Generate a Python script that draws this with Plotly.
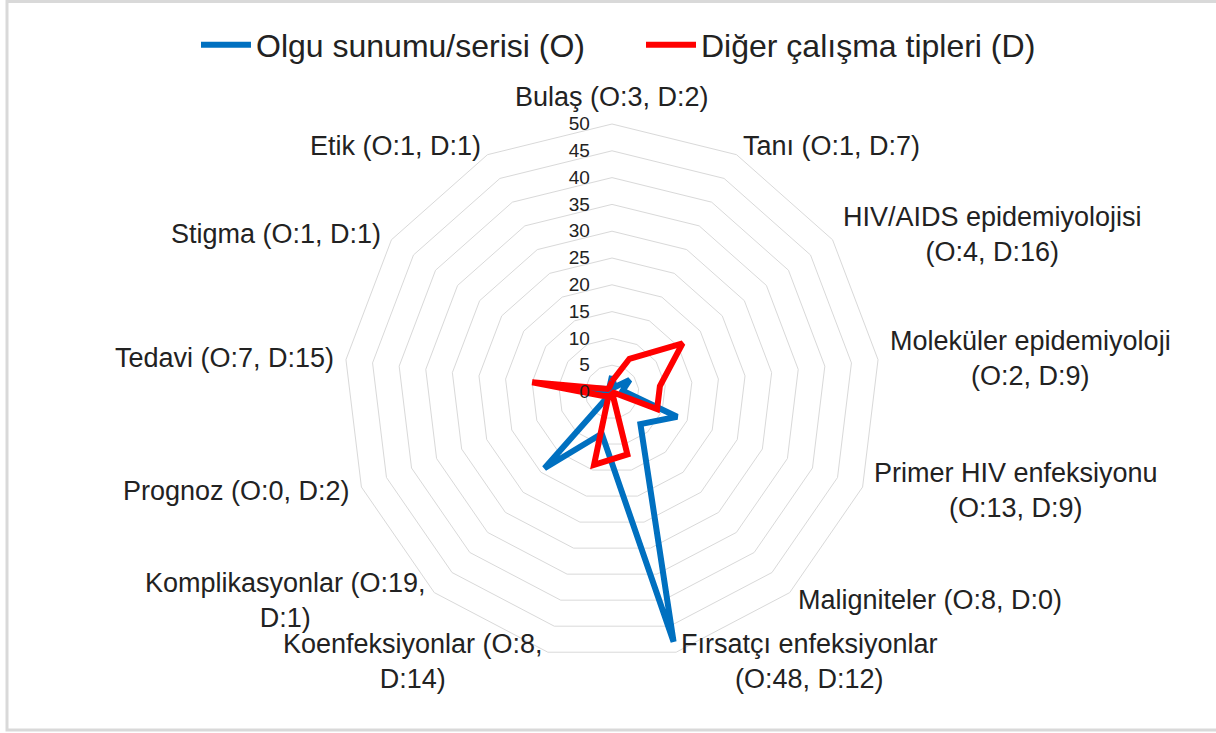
import math
import plotly.graph_objects as go

categories = [
    "Bulaş (O:3, D:2)",
    "Tanı (O:1, D:7)",
    "HIV/AIDS epidemiyolojisi<br>(O:4, D:16)",
    "Moleküler epidemiyoloji<br>(O:2, D:9)",
    "Primer HIV enfeksiyonu<br>(O:13, D:9)",
    "Maligniteler (O:8, D:0)",
    "Fırsatçı enfeksiyonlar<br>(O:48, D:12)",
    "Koenfeksiyonlar (O:8,<br>D:14)",
    "Komplikasyonlar (O:19,<br>D:1)",
    "Prognoz (O:0, D:2)",
    "Tedavi (O:7, D:15)",
    "Stigma (O:1, D:1)",
    "Etik (O:1, D:1)",
]
olgu = [3, 1, 4, 2, 13, 8, 48, 8, 19, 0, 7, 1, 1]
diger = [2, 7, 16, 9, 9, 0, 12, 14, 1, 2, 15, 1, 1]

W, H = 1216, 733
cx, cy, R = 612, 392, 268

fig = go.Figure()

fig.add_trace(go.Scatterpolar(
    r=olgu + olgu[:1],
    theta=categories + categories[:1],
    mode="lines",
    name="Olgu sunumu/serisi (O)",
    line=dict(color="#0070C0", width=6),
))

fig.add_trace(go.Scatterpolar(
    r=diger + diger[:1],
    theta=categories + categories[:1],
    mode="lines",
    name="Diğer çalışma tipleri (D)",
    line=dict(color="#FF0000", width=6),
))

# category labels, Excel style: centred lines, anchored just outside each spoke
annotations = []
n = len(categories)
for i, label in enumerate(categories):
    a = 2 * math.pi * i / n
    s, c = math.sin(a), math.cos(a)
    d = R + 10
    px_, py_ = cx + d * s, cy - d * c
    if abs(s) < 0.1:
        xanchor = "center"
        py_ -= 17
    elif s > 0:
        xanchor = "left"
    else:
        xanchor = "right"
    annotations.append(dict(
        text=label, x=px_ / W, y=1 - py_ / H, xref="paper", yref="paper",
        xanchor=xanchor, yanchor="middle", align="center", showarrow=False,
        font=dict(size=27, color="#222222"),
    ))

fig.update_layout(
    width=W,
    height=H,
    margin=dict(l=0, r=0, t=0, b=0),
    paper_bgcolor="white",
    font=dict(family="Liberation Sans, Arial, sans-serif", color="#222222"),
    polar=dict(
        domain=dict(x=[(cx - R) / W, (cx + R) / W],
                    y=[1 - (cy + R) / H, 1 - (cy - R) / H]),
        gridshape="linear",
        bgcolor="white",
        radialaxis=dict(
            range=[0, 50],
            dtick=5,
            angle=90,
            tickangle=90,
            side="counterclockwise",
            showline=False,
            ticks="outside",
            ticklen=15,
            tickcolor="rgba(0,0,0,0)",
            gridcolor="#d9d9d9",
            gridwidth=1,
            tickfont=dict(size=19, color="#222222"),
        ),
        angularaxis=dict(
            type="category",
            categoryarray=categories,
            rotation=90,
            direction="clockwise",
            showgrid=False,
            showline=True,
            linecolor="#d9d9d9",
            ticks="",
            showticklabels=False,
        ),
    ),
    legend=dict(
        orientation="h",
        x=0.5 + 33 / W,
        xanchor="center",
        y=1 - 45 / H,
        yanchor="middle",
        font=dict(size=32, color="#222222"),
        itemwidth=50,
        entrywidth=380,
        entrywidthmode="pixels",
    ),
    annotations=annotations,
    shapes=[dict(
        type="rect", xref="paper", yref="paper",
        x0=7 / W, x1=1.01, y0=1 - 730 / H, y1=1 - 1.5 / H,
        line=dict(color="#d9d9d9", width=3),
    )],
)

fig.write_html("out.html", config={"displayModeBar": False},
               post_script="document.body.style.margin='0';")
